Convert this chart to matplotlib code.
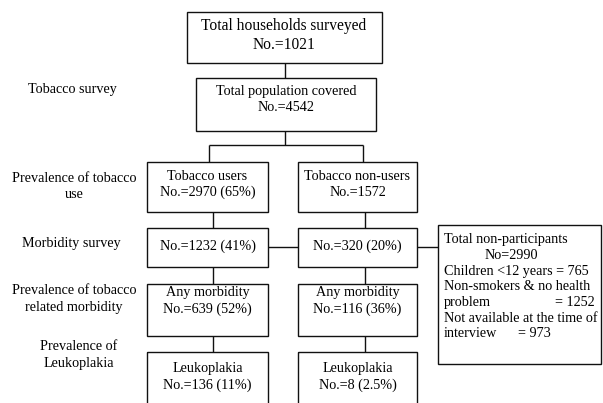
import matplotlib
matplotlib.use("Agg")
import matplotlib.pyplot as plt
from matplotlib.patches import Rectangle

plt.rcParams['font.family'] = ['Liberation Serif', 'DejaVu Serif']

# Flowchart content
stage_labels = ["Tobacco survey", "Prevalence of tobacco\nuse", "Morbidity survey",
                "Prevalence of tobacco\nrelated morbidity", "Prevalence of\nLeukoplakia"]
top_labels = ["Total households surveyed\nNo.=1021", "Total population covered\nNo.=4542"]
users_labels = ["Tobacco users\nNo.=2970 (65%)", "No.=1232 (41%)",
                "Any morbidity\nNo.=639 (52%)", "Leukoplakia\nNo.=136 (11%)"]
nonusers_labels = ["Tobacco non-users\nNo.=1572", "No.=320 (20%)",
                   "Any morbidity\nNo.=116 (36%)", "Leukoplakia\nNo.=8 (2.5%)"]
nonpart_title = ["Total non-participants", "No=2990"]
nonpart_lines = ["Children <12 years = 765", "Non-smokers & no health",
                 "problem", "Not available at the time of", "interview"]
nonpart_values = {2: "= 1252", 4: "= 973"}

fig = plt.figure(figsize=(6.03, 4.03), dpi=100)
ax = fig.add_axes([0, 0, 1, 1])
ax.set_xlim(0, 603)
ax.set_ylim(403, 0)
ax.axis('off')

lw = 1.0
def box(x0, y0, x1, y1):
    ax.add_patch(Rectangle((x0, y0), x1 - x0, y1 - y0, fill=False, ec='#111111', lw=lw))

def line(xs, ys):
    ax.plot(xs, ys, color='#111111', lw=lw, solid_capstyle='butt')

fs = 10.2
ls = 1.3
# top boxes
box(186.5, 12, 382, 63)
ax.text(284, 35.5, top_labels[0], ha='center', va='center', fontsize=11.2, linespacing=1.3)
line([285, 285], [63, 78])
box(196, 78, 376, 131)
ax.text(286, 99.5, top_labels[1], ha='center', va='center', fontsize=fs, linespacing=ls)
line([285, 285], [131, 145])
line([209, 363], [145, 145])
line([209, 209], [145, 162])
line([363, 363], [145, 162])

# column boxes
rows = [(162, 212), (228, 267), (284, 336), (352, 410)]
text_y = [184.5, 246, 301, 377]
L = (147, 268)
R = (298, 417)
for i, ((y0, y1), ty) in enumerate(zip(rows, text_y)):
    box(L[0], y0, L[1], y1)
    box(R[0], y0, R[1], y1)
    ax.text((L[0] + L[1]) / 2, ty, users_labels[i], ha='center', va='center', fontsize=fs, linespacing=ls)
    ax.text((R[0] + R[1]) / 2, ty, nonusers_labels[i], ha='center', va='center', fontsize=fs, linespacing=ls)
    if i < len(rows) - 1:
        line([213, 213], [y1, rows[i + 1][0]])
        line([365, 365], [y1, rows[i + 1][0]])

# horizontal connectors
line([268, 298], [247, 247])
line([417, 438], [247, 247])

# non-participants box
box(438, 225, 601, 364)
ax.text(444, 240, nonpart_title[0], ha='left', va='center', fontsize=fs)
ax.text(511, 255.5, nonpart_title[1], ha='center', va='center', fontsize=fs)
for k, t in enumerate(nonpart_lines):
    y = 271 + k * 15.7
    ax.text(444, y, t, ha='left', va='center', fontsize=fs)
    if k == 2:
        ax.text(595, y, nonpart_values[k], ha='right', va='center', fontsize=fs)
    elif k == 4:
        ax.text(518, y, nonpart_values[k], ha='left', va='center', fontsize=fs)

# stage labels
stage_pos = [(72, 89), (74, 186), (71, 244), (74, 299), (79, 355)]
for lab, (x, y) in zip(stage_labels, stage_pos):
    ax.text(x, y, lab, ha='center', va='center', fontsize=fs, linespacing=ls)

fig.savefig("out.png", dpi=100)
